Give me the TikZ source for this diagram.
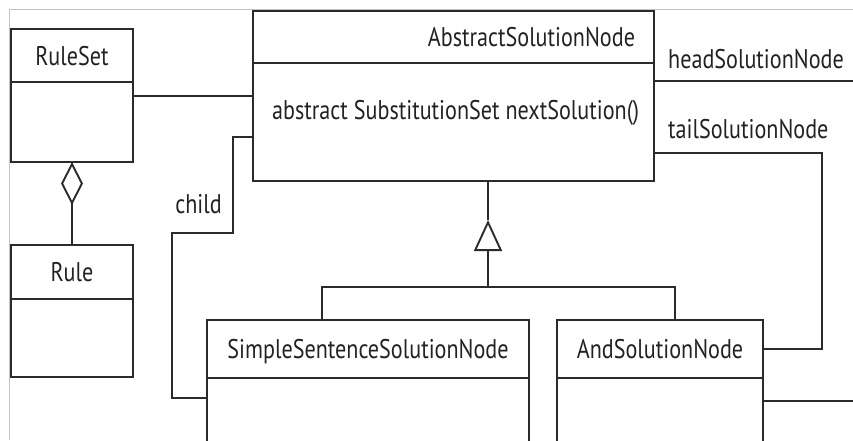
\documentclass[tikz,border=0pt]{standalone}
\usepackage{fontspec}
\setmainfont[FakeStretch=0.82]{PT Sans}
\usetikzlibrary{arrows.meta}
\tikzset{>=latex}
\definecolor{umlline}{HTML}{2B2B2B}
\definecolor{umltext}{HTML}{222222}
\definecolor{pageframe}{HTML}{C4C4C4}
\tikzset{classhead/.style = {shape=rectangle, draw=umlline, line width=1.9pt, anchor=north west, inner sep=0pt, outer sep=0pt, text depth=0pt}}
\tikzset{classbody/.style = {shape=rectangle, draw=umlline, line width=1.9pt, anchor=north west, inner sep=0pt, outer sep=0pt}}
\tikzset{rolelabel/.style = {inner sep=0pt}}
\tikzset{edge/.style = {draw=umlline, line width=1.9pt}}
\tikzset{aggr/.style = {edge, {Diamond[open, length=43pt, width=22pt]}-}}
\tikzset{inherit/.style = {edge, -{Triangle[open, length=31pt, width=28pt]}}}
\tikzset{frame/.style = {draw=pageframe, line width=1pt}}

\begin{document}
\begin{tikzpicture}[x=1pt, y=-1pt, font=\fontsize{27}{32}\selectfont, text=umltext]
            \useasboundingbox (0,0) rectangle (853,440);
            \clip (0,0) rectangle (853,440);

            % Page frame
            \draw[frame] (853,9) -- (9,9) -- (9,440);

            % Classes
            \node[classhead, minimum width=122pt, minimum height=53pt] (rulesethead) at (11,29) {RuleSet};
            \node[classbody, minimum width=122pt, minimum height=80pt] (rulesetbody) at (rulesethead.south west) {};

            \node[classhead, minimum width=122pt, minimum height=54pt] (rulehead) at (11,245) {Rule};
            \node[classbody, minimum width=122pt, minimum height=78pt] (rulebody) at (rulehead.south west) {};

            \node[classhead, minimum width=401pt, minimum height=52pt, text width=363pt, align=right] (asnhead) at (253,11) {AbstractSolutionNode};
            \node[classbody, minimum width=401pt, minimum height=118pt] (asnbody) at (asnhead.south west) {};
            \node[anchor=base west, inner sep=0pt] (nextsolution) at (272,119) {abstract SubstitutionSet nextSolution()};

            \node[classhead, minimum width=322pt, minimum height=58pt] (sssnhead) at (207,320) {SimpleSentenceSolutionNode};
            \node[classbody, minimum width=322pt, minimum height=100pt] (sssnbody) at (sssnhead.south west) {};

            \node[classhead, minimum width=206pt, minimum height=58pt] (andhead) at (557,320) {AndSolutionNode};
            \node[classbody, minimum width=206pt, minimum height=100pt] (andbody) at (andhead.south west) {};

            % Role names
            \node[rolelabel, anchor=base east] (childlabel) at (222,213) {child};
            \node[rolelabel, anchor=base west] (headlabel) at (668,68) {headSolutionNode};
            \node[rolelabel, anchor=base west] (taillabel) at (668,138) {tailSolutionNode};

            % Free ends and bends
            \coordinate (headend) at (853,81);
            \coordinate (andend) at (853,401);
            \coordinate (fork) at (488,287);
            \coordinate (apex) at (488,220);

            % Edges
            % RuleSet
            \draw[edge] ([yshift=-14pt]rulesetbody.north east) coordinate (rsout) -- (rsout -| asnbody.west);
            \draw[aggr] (rulesetbody.south) -- (rulehead.north);

            % child
            \draw[edge] ([yshift=-74pt]asnbody.north west) -- ++(-20,0) -- ++(0,96) -- ++(-61,0) |- ([yshift=-20pt]sssnbody.north west);

            % head and tail
            \draw[edge] ([yshift=-18pt]asnbody.north east) -- (headend);
            \draw[edge] ([yshift=-90pt]asnbody.north east) -| ([xshift=59pt]andhead.east) -- (andhead.east);
            \draw[edge] ([yshift=-23pt]andbody.north east) -- (andend);

            % generalisation
            \draw[edge] (fork) -| ([xshift=115pt]sssnhead.north west);
            \draw[edge] (fork) -| ([xshift=118pt]andhead.north west);
            \draw[inherit] (fork) -- (apex);
            \draw[edge] (apex) -- (apex |- asnbody.south);
        \end{tikzpicture}
\end{document}
